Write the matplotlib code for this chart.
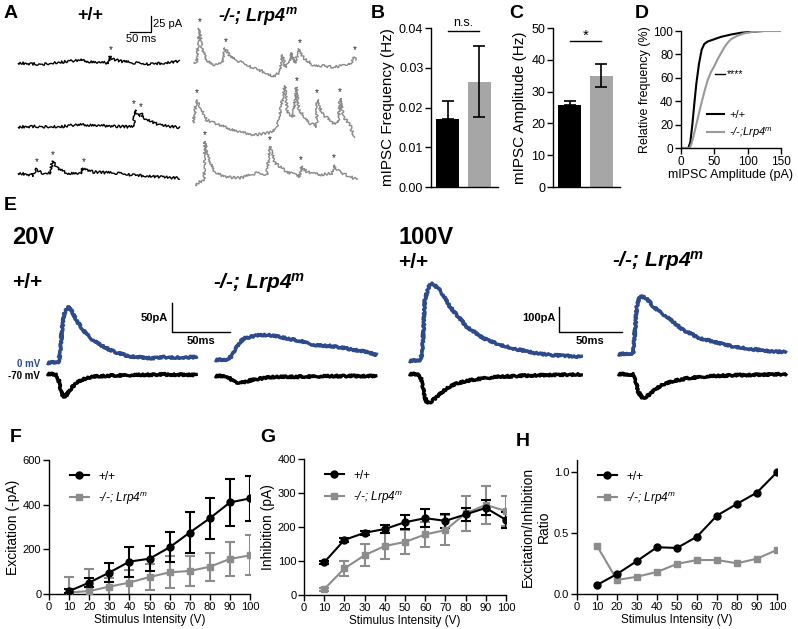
import numpy as np
import matplotlib
matplotlib.use("Agg")
import matplotlib.pyplot as plt

plt.rcParams['font.family'] = ['Liberation Sans', 'DejaVu Sans']
plt.rcParams['mathtext.fontset'] = 'custom'
plt.rcParams['mathtext.rm'] = 'Liberation Sans'
plt.rcParams['mathtext.it'] = 'Liberation Sans:italic'
plt.rcParams['mathtext.bf'] = 'Liberation Sans:italic:bold'
plt.rcParams['axes.linewidth'] = 1.0

# --- data -------------------------------------------------------------
# A: mIPSC traces, keypoints (ms, pA above baseline) and event times (ms)
wt1_t = [0, 54, 90, 127, 151, 176, 220, 224, 232, 249, 285, 322, 359, 395]
wt1_pa = [0, -2, 0, 3, 5, 2, 0, 10, 6, 3, 0, -2, 0, 3]
wt1_ev = [226]
wt2_t = [0, 40, 100, 145, 180, 240, 282, 285, 292, 297, 299, 310, 345, 395]
wt2_pa = [0, 1, 0, 4, 3, 1, 0, 27, 18, 17, 22, 13, 3, -1]
wt2_ev = [283, 299]
wt3_t = [0, 37, 44, 58, 78, 84, 98, 119, 155, 158, 184, 241, 280, 395]
wt3_pa = [6, 3, 14, 6, 6, 25, 14, 6, 6, 14, 8, 6, 3, -2]
wt3_ev = [45, 85, 160]
ko1_t = [0, 6, 13, 19, 31, 47, 68, 76, 88, 112, 145, 177, 193, 210, 216, 222,
         234, 238, 246, 257, 267, 291, 340, 380, 390, 397]
ko1_pa = [5, 3, 58, 29, 8, 0, 3, 27, 13, 5, -5, -13, -19, -11, 16, -3,
          3, 19, 3, 25, 11, 0, -3, 0, 13, 8]
ko1_ev = [13, 77, 258, 391]
ko2_t = [0, 9, 17, 33, 66, 98, 147, 180, 196, 208, 224, 230, 245, 252, 258,
         285, 301, 303, 314, 342, 354, 359, 367, 383, 393]
ko2_pa = [11, 48, 37, 16, 8, 0, -8, -5, -3, 11, 70, 27, 21, 68, 32,
          11, 6, 48, 27, 11, 11, 50, 21, 8, -13]
ko2_ev = [9, 252, 303, 359]
ko3_t = [0, 12, 22, 24, 32, 49, 77, 110, 150, 175, 183, 195, 224, 256, 259,
         273, 307, 335, 338, 352, 380, 397]
ko3_pa = [-8, -3, 0, 61, 37, 11, 5, 3, 11, 8, 53, 27, 13, 5, 22,
          13, 8, 11, 24, 13, 5, 0]
ko3_ev = [24, 183, 259, 338]

# B, C: mIPSC frequency / amplitude (mean, sem)
groups = ['+/+', '-/-; Lrp4m']
freq_mean = [0.0170, 0.0265]
freq_err = [0.0047, 0.0089]
amp_mean = [25.7, 35.0]
amp_err = [1.5, 3.7]

# D: cumulative distribution of mIPSC amplitude
cdf_wt_x = [0, 11, 14, 17, 20, 23, 27, 31, 35, 40, 50, 60, 75, 90, 110, 123]
cdf_wt_y = [0, 0, 5, 20, 38, 55, 72, 84, 89, 91, 93, 95, 97, 98.5, 99.5, 100]
cdf_ko_x = [0, 13, 16, 20, 25, 30, 35, 40, 45, 50, 55, 60, 65, 70, 75, 85, 95, 110, 125, 150]
cdf_ko_y = [0, 0, 4, 13, 25, 37, 48, 58, 65, 70, 76, 81, 86, 90, 93, 96, 98, 99.5, 100, 100]

# E: evoked currents (ms, pA), 0 mV (blue) and -70 mV (black)
e20_wt_up_t = [0, 5, 10, 11.5, 13, 15, 18, 21, 26, 31, 38, 46, 53, 60, 70, 80, 90, 100, 110, 120, 130]
e20_wt_up_pa = [0, 1, 2, 20, 60, 85, 97, 90, 72, 57, 42, 31, 24, 18, 12, 10, 8, 10, 9, 10, 10]
e20_wt_dn_t = [0, 8, 10, 12, 14, 17, 21, 26, 32, 40, 55, 80, 100, 130]
e20_wt_dn_pa = [2, 1, -8, -28, -38, -34, -22, -13, -7, -3, -1, 0, 1, 0]
e20_ko_up_t = [0, 10, 14, 18, 22, 26, 35, 45, 55, 65, 75, 87, 101, 116, 131, 140]
e20_ko_up_pa = [0, 1, 6, 20, 32, 38, 42, 43, 40, 36, 32, 25, 24, 19, 14, 8]
e20_ko_dn_t = [0, 10, 14, 18, 22, 28, 36, 50, 80, 110, 140]
e20_ko_dn_pa = [0, 0, -6, -11, -12, -9, -5, -2, -1, 0, 0]
e100_wt_up_t = [0, 8.7, 10.5, 12.7, 15, 18, 24.6, 32.5, 45.8, 59, 72, 85.5, 98.7, 112, 138]
e100_wt_up_pa = [0, 4, 30, 244, 290, 313, 284, 217, 137, 91, 64, 47, 33, 24, 17]
e100_wt_dn_t = [0, 8, 10, 12, 14, 17, 20, 24, 28, 32.5, 38, 46, 59, 72, 85, 100, 115, 138]
e100_wt_dn_pa = [0, -1, -25, -80, -115, -112, -100, -84, -66, -51, -38, -27, -17, -11, -8, -5, -4, -2]
e100_ko_up_t = [0, 12, 15, 17.5, 22.8, 28, 38.6, 51.8, 65, 91.5, 118, 134]
e100_ko_up_pa = [3, 7, 193, 236, 227, 193, 153, 100, 67, 33, 16, 11]
e100_ko_dn_t = [0, 12, 14, 16, 19, 22, 26, 30, 36, 45, 55, 70, 90, 110, 134]
e100_ko_dn_pa = [0, -2, -30, -70, -95, -92, -78, -60, -42, -27, -17, -10, -5, -3, -1]

# F, G, H: input/output curves
volts = [10, 20, 30, 40, 50, 60, 70, 80, 90, 100]
exc_wt = [13, 51, 96, 145, 158, 209, 275, 339, 410, 428]
exc_wt_err = [8, 20, 41, 67, 56, 67, 90, 91, 107, 101]
exc_ko = [7, 13, 33, 51, 76, 97, 103, 122, 157, 173]
exc_ko_err = [70, 100, 40, 55, 58, 71, 66, 63, 77, 90]
inh_wt = [96, 162, 183, 194, 214, 226, 218, 237, 256, 221]
inh_wt_err = [4, 5, 6, 12, 21, 26, 20, 18, 22, 24]
inh_ko = [17, 78, 117, 144, 156, 178, 191, 240, 265, 247]
inh_ko_err = [4, 23, 32, 37, 35, 38, 44, 51, 56, 44]
ratio_wt = [0.074, 0.164, 0.271, 0.384, 0.378, 0.471, 0.644, 0.740, 0.833, 1.0]
ratio_ko = [0.395, 0.115, 0.142, 0.181, 0.247, 0.279, 0.279, 0.252, 0.290, 0.362]

# --- helpers ----------------------------------------------------------
W, H = 798, 629
fig = plt.figure(figsize=(W / 100, H / 100), dpi=100)

BLUE = '#2d4b8c'
GRAY = '#8c8c8c'
TRACE_GRAY = '#8a8a8a'
BAR_GRAY = '#a6a6a6'


def px_axes(x0, y0, x1, y1):
    return fig.add_axes([x0 / W, 1 - y1 / H, (x1 - x0) / W, (y1 - y0) / H])


def ftext(x, y, s, **kw):
    kw.setdefault('ha', 'left')
    kw.setdefault('va', 'center')
    fig.text(x / W, 1 - y / H, s, **kw)


def prism(ax, size=8):
    for s in ['top', 'right']:
        ax.spines[s].set_visible(False)
    ax.tick_params(direction='out', length=4, width=1, labelsize=size, pad=1.5)


def trace_axes(x0, base, px_ms, px_pa, t_span, lo, hi):
    ax = px_axes(x0, base - hi * px_pa, x0 + t_span * px_ms, base - lo * px_pa)
    ax.set_xlim(0, t_span)
    ax.set_ylim(lo, hi)
    ax.axis('off')
    return ax


def draw_trace(ax, t, y, color, lw, sketch):
    ln, = ax.plot(t, y, color=color, lw=lw, clip_on=False,
                  solid_joinstyle='round', solid_capstyle='butt')
    ln.set_sketch_params(*sketch)


def mark_events(ax, t, y, events):
    t = np.asarray(t)
    y = np.asarray(y)
    for ev in events:
        near = np.abs(t - ev) <= 5
        ax.annotate('*', (ev, y[near].max()), xytext=(0, 1), textcoords='offset points',
                    ha='center', va='bottom', fontsize=7, color='#222222')


# --- panel A ----------------------------------------------------------
ftext(4, 13, 'A', fontsize=14, fontweight='bold')
ftext(90, 15, '+/+', fontsize=13, fontweight='bold', ha='center')
ftext(258, 16, r'-/-; Lrp4$^{\mathbf{m}}$', fontsize=13, fontweight='bold',
      style='italic', ha='center')

A_MS, A_PA = 0.41, 0.63
a_sketch = (1.3, 1.0, 4)
a_rows = [
    (18, 63, wt1_t, wt1_pa, wt1_ev, 'black'),
    (18, 127, wt2_t, wt2_pa, wt2_ev, 'black'),
    (18, 177, wt3_t, wt3_pa, wt3_ev, 'black'),
    (194, 65, ko1_t, ko1_pa, ko1_ev, TRACE_GRAY),
    (193, 130, ko2_t, ko2_pa, ko2_ev, TRACE_GRAY),
    (195, 180, ko3_t, ko3_pa, ko3_ev, TRACE_GRAY),
]
a_axes = []
for x0, base, t, y, ev, col in a_rows:
    ax = trace_axes(x0, base, A_MS, A_PA, 395, -30, 80)
    draw_trace(ax, t, y, col, 1.0, a_sketch)
    mark_events(ax, t, y, ev)
    a_axes.append(ax)

# scale bar 50 ms / 25 pA
ax = a_axes[0]
ax.plot([274, 324, 324], [50, 50, 75], color='black', lw=0.9, clip_on=False)
ax.text(329, 62.5, '25 pA', fontsize=8, va='center', ha='left')
ax.text(299, 46, '50 ms', fontsize=8, va='top', ha='center')

# --- panel B ----------------------------------------------------------
ftext(371, 13, 'B', fontsize=14, fontweight='bold')
axB = px_axes(431, 28, 498, 187)
prism(axB, 9)
axB.bar([0, 1], freq_mean, width=0.72, color=['black', BAR_GRAY])
axB.errorbar([0], [freq_mean[0]], yerr=[[0], [freq_err[0]]], fmt='none',
             ecolor='black', elinewidth=1.2, capsize=4.5, capthick=1.2)
axB.errorbar([1], [freq_mean[1]], yerr=[freq_err[1]], fmt='none',
             ecolor='black', elinewidth=1.2, capsize=4.5, capthick=1.2)
axB.set_xlim(-0.52, 1.58)
axB.set_ylim(0, 0.04)
axB.set_yticks([0, 0.01, 0.02, 0.03, 0.04])
axB.set_yticklabels(['0.00', '0.01', '0.02', '0.03', '0.04'])
axB.set_xticks([])
axB.set_ylabel('mIPSC Frequency (Hz)', fontsize=11, labelpad=3)
axB.plot([0, 1], [0.0392, 0.0392], color='black', lw=1, clip_on=False)
axB.text(0.5, 0.0398, 'n.s.', ha='center', va='bottom', fontsize=9)

# --- panel C ----------------------------------------------------------
ftext(509, 13, 'C', fontsize=14, fontweight='bold')
axC = px_axes(553, 28, 620, 187)
prism(axC, 9)
axC.bar([0, 1], amp_mean, width=0.72, color=['black', BAR_GRAY])
axC.errorbar([0], [amp_mean[0]], yerr=[[0], [amp_err[0]]], fmt='none',
             ecolor='black', elinewidth=1.2, capsize=4.5, capthick=1.2)
axC.errorbar([1], [amp_mean[1]], yerr=[amp_err[1]], fmt='none',
             ecolor='black', elinewidth=1.2, capsize=4.5, capthick=1.2)
axC.set_xlim(-0.52, 1.58)
axC.set_ylim(0, 50)
axC.set_yticks([0, 10, 20, 30, 40, 50])
axC.set_xticks([])
axC.set_ylabel('mIPSC Amplitude (Hz)', fontsize=11, labelpad=3)
axC.plot([0, 1], [45.9, 45.9], color='black', lw=1, clip_on=False)
axC.text(0.5, 45.2, '*', ha='center', va='bottom', fontsize=11)

# --- panel D ----------------------------------------------------------
ftext(635, 13, 'D', fontsize=14, fontweight='bold')
axD = px_axes(681, 31, 781, 148)
prism(axD, 8.5)
axD.plot(cdf_wt_x, cdf_wt_y, color='black', lw=1.5, label='+/+')
axD.plot(cdf_ko_x, cdf_ko_y, color='#999999', lw=1.5, label=r'-/-;Lrp4$^m$')
axD.set_xlim(0, 150)
axD.set_ylim(0, 100)
axD.set_xticks([0, 50, 100, 150])
axD.set_yticks([0, 20, 40, 60, 80, 100])
axD.set_xlabel('mIPSC Amplitude (pA)', fontsize=9, labelpad=1)
axD.set_ylabel('Relative frequency (%)', fontsize=9, labelpad=2)
legD = axD.legend(loc='lower right', frameon=False, fontsize=8, handlelength=1.5,
                  handletextpad=0.5, borderaxespad=0.3, labelspacing=0.5)
legD.get_texts()[1].set_style('italic')
axD.plot([51, 66], [63, 63], color='black', lw=1)
axD.text(68, 63, '****', fontsize=7.5, va='center', ha='left')

# --- panel E ----------------------------------------------------------
ftext(4, 206, 'E', fontsize=14, fontweight='bold')
ftext(12, 238, '20V', fontsize=17, fontweight='bold')
ftext(12, 283, '+/+', fontsize=15, fontweight='bold')
ftext(213, 283, r'-/-; Lrp4$^{\mathbf{m}}$', fontsize=15, fontweight='bold', style='italic')
ftext(398, 238, '100V', fontsize=17, fontweight='bold')
ftext(398, 263, '+/+', fontsize=15, fontweight='bold')
ftext(612, 261, r'-/-; Lrp4$^{\mathbf{m}}$', fontsize=15, fontweight='bold', style='italic')
ftext(40, 364, '0 mV', fontsize=7, fontweight='bold', color=BLUE, ha='right')
ftext(40, 376, '-70 mV', fontsize=7, fontweight='bold', ha='right')

e_sketch = (1.0, 1.2, 3)
E_LW = 2.4
e_sets = [
    # x0, base, px/ms, px/pA, t, pA, color
    (47, 363, 1.16, 0.58, e20_wt_up_t, e20_wt_up_pa, BLUE),
    (47, 375, 1.16, 0.58, e20_wt_dn_t, e20_wt_dn_pa, 'black'),
    (215, 360, 1.16, 0.58, e20_ko_up_t, e20_ko_up_pa, BLUE),
    (215, 376, 1.16, 0.58, e20_ko_dn_t, e20_ko_dn_pa, 'black'),
    (409, 361, 1.26, 0.25, e100_wt_up_t, e100_wt_up_pa, BLUE),
    (409, 374, 1.26, 0.25, e100_wt_dn_t, e100_wt_dn_pa, 'black'),
    (618, 355, 1.26, 0.25, e100_ko_up_t, e100_ko_up_pa, BLUE),
    (618, 374, 1.26, 0.25, e100_ko_dn_t, e100_ko_dn_pa, 'black'),
]
e_axes = []
for x0, base, pms, ppa, t, y, col in e_sets:
    ax = trace_axes(x0, base, pms, ppa, max(t), -130, 330)
    draw_trace(ax, t, y, col, E_LW, e_sketch)
    e_axes.append(ax)

# scale bars
ax = e_axes[0]
ax.plot([108, 108, 158], [103, 53, 53], color='black', lw=1.0, clip_on=False)
ax.text(104, 78, '50pA', fontsize=8, fontweight='bold', ha='right', va='center')
ax.text(133, 47, '50ms', fontsize=8, fontweight='bold', ha='center', va='top')
ax = e_axes[4]
ax.plot([119, 119, 169], [216, 116, 116], color='black', lw=1.0, clip_on=False)
ax.text(116, 172, '100pA', fontsize=8, fontweight='bold', ha='right', va='center')
ax.text(144, 100, '50ms', fontsize=8, fontweight='bold', ha='center', va='top')


# --- panels F, G, H ---------------------------------------------------
def io_panel(box, wt, ko, wt_err, ko_err, ylim, yticks, ylabel):
    ax = px_axes(*box)
    prism(ax, 8)
    if wt_err is not None:
        ax.errorbar(volts, ko, yerr=ko_err, fmt='none', ecolor=GRAY, elinewidth=1.5,
                    capsize=3.5, capthick=1.5, zorder=2)
        ax.errorbar(volts, wt, yerr=wt_err, fmt='none', ecolor='black', elinewidth=1.5,
                    capsize=3.5, capthick=1.5, zorder=3)
    ax.plot(volts, ko, '-s', color=GRAY, lw=1.5, ms=5, label=r'-/-; Lrp4$^m$', zorder=4)
    ax.plot(volts, wt, '-o', color='black', lw=1.5, ms=5, label='+/+', zorder=5)
    ax.set_xlim(0, 100)
    ax.set_ylim(*ylim)
    ax.set_xticks(range(0, 101, 10))
    ax.set_yticks(yticks)
    ax.set_xlabel('Stimulus Intensity (V)', fontsize=8.5, labelpad=2)
    ax.set_ylabel(ylabel, fontsize=10, labelpad=2)
    h, l = ax.get_legend_handles_labels()
    leg = ax.legend(h[::-1], l[::-1], loc='upper left', bbox_to_anchor=(0.05, 1.0),
                    frameon=False, fontsize=8.5, handlelength=1.6, handletextpad=0.8,
                    labelspacing=0.6)
    leg.get_texts()[1].set_style('italic')
    for s in ax.spines.values():
        s.set_clip_on(False)
    return ax


ftext(10, 437, 'F', fontsize=14, fontweight='bold')
io_panel((49, 460, 250, 594), exc_wt, exc_ko, exc_wt_err, exc_ko_err,
         (0, 600), [0, 200, 400, 600], 'Excitation (-pA)')

ftext(260, 437, 'G', fontsize=14, fontweight='bold')
io_panel((304, 459, 506, 595), inh_wt, inh_ko, inh_wt_err, inh_ko_err,
         (0, 400), [0, 100, 200, 300, 400], 'Inhibition (pA)')

ftext(516, 441, 'H', fontsize=14, fontweight='bold')
axH = io_panel((577, 460, 777, 594), ratio_wt, ratio_ko, None, None,
               (0, 1.1), [0, 0.5, 1.0], 'Excitation/Inhibition\nRatio')
axH.set_yticklabels(['0.0', '0.5', '1.0'])

fig.savefig('out.png', dpi=100)
